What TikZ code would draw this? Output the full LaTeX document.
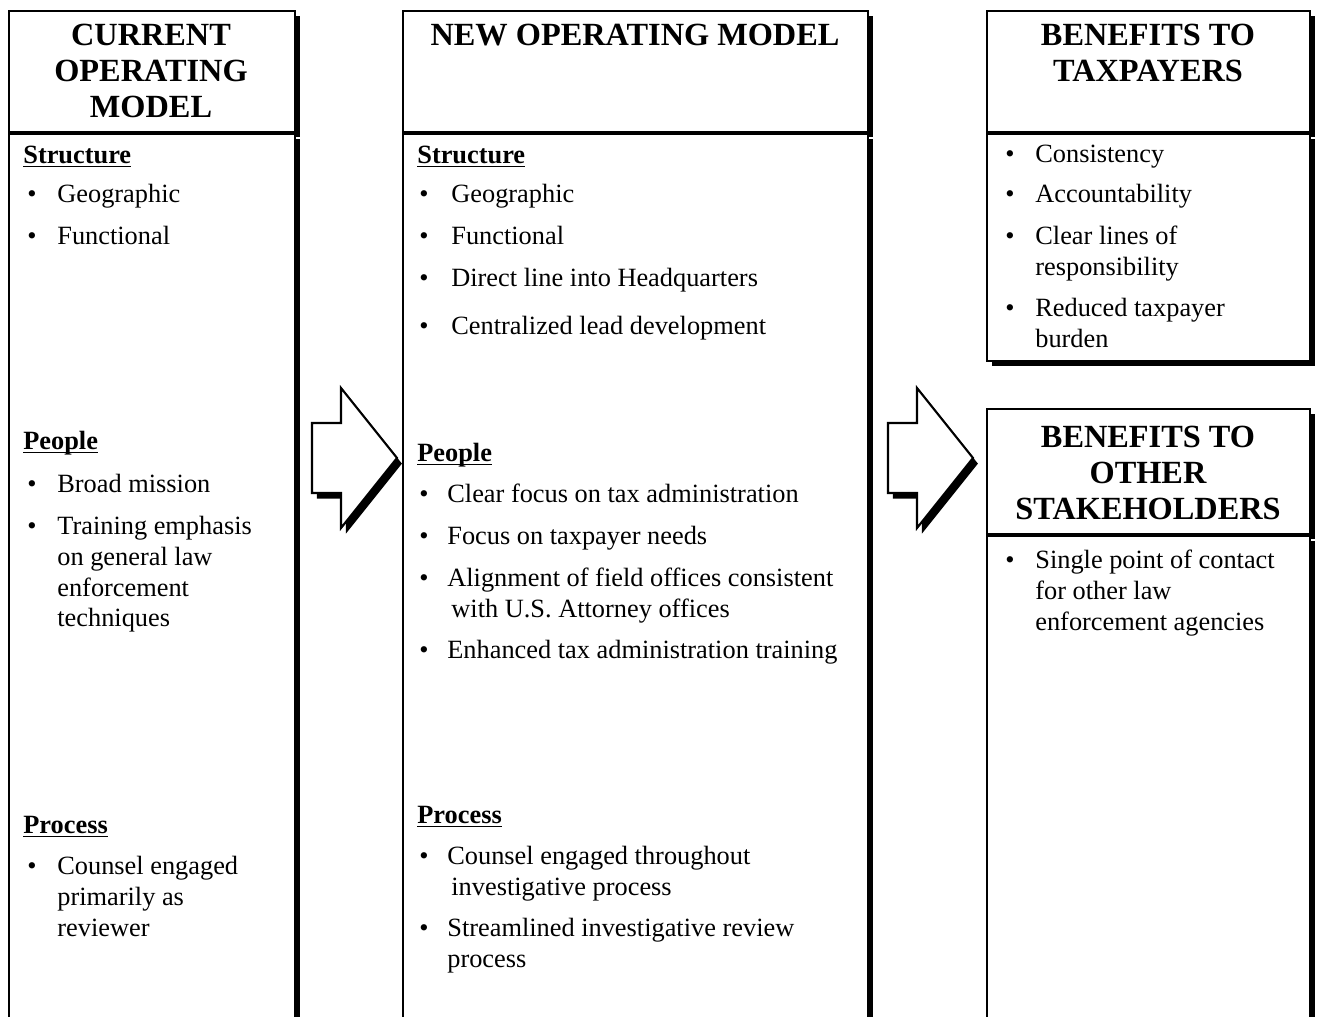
\documentclass[tikz,border=0pt]{standalone}
\usepackage{fontspec}
\setmainfont{Liberation Serif}
\usetikzlibrary{positioning,shadows}

\newcommand{\sechead}[1]{\underline{\smash{#1}}}
\newcommand{\stack}[1]{\begin{tabular}[t]{@{}l@{}}#1\end{tabular}}

\begin{document}
\begin{tikzpicture}[x=0.02cm, y=-0.02cm,
        panel/.style={draw=black, line width=1.2pt, fill=white, inner sep=0pt, anchor=north west,
                      drop shadow={shadow xshift=2.8pt, shadow yshift=-2.8pt, fill=black, opacity=1}},
        headtext/.style={font=\fontsize{18.4}{20.5}\selectfont\bfseries, align=center, inner sep=0pt},
        topic/.style={font=\fontsize{15}{17.4}\selectfont\bfseries, anchor=base west, inner sep=0pt, yshift=-1.1pt},
        bullet/.style={font=\fontsize{15}{17.4}\selectfont, anchor=base west, inner sep=0pt, yshift=-1.1pt},
        item/.style={font=\fontsize{15}{17.4}\selectfont, anchor=base west, inner sep=0pt, yshift=-1.1pt},
        bigarrow/.style={draw=black, line width=1.2pt, fill=white, line join=miter,
                      drop shadow={shadow xshift=2.8pt, shadow yshift=-3.2pt, fill=black, opacity=1}}
    ]
        \useasboundingbox (0,0) rectangle (1322,1017);
        \clip (0,0) rectangle (1322,1017);

        % panels
        \node[panel, minimum width=5.72cm, minimum height=2.42cm] (curhead) at (8,10) {};
        \node[panel, minimum width=5.72cm, minimum height=18cm, below=0pt of curhead] (curbody) {};
        \node[panel, minimum width=9.3cm, minimum height=2.42cm] (newhead) at (402,10) {};
        \node[panel, minimum width=9.3cm, minimum height=18cm, below=0pt of newhead] (newbody) {};
        \node[panel, minimum width=6.46cm, minimum height=2.42cm] (taxhead) at (986,10) {};
        \node[panel, minimum width=6.46cm, minimum height=4.54cm, below=0pt of taxhead] (taxbody) {};
        \node[panel, minimum width=6.46cm, minimum height=2.5cm] (othhead) at (986,408) {};
        \node[panel, minimum width=6.46cm, minimum height=10cm, below=0pt of othhead] (othbody) {};

        % block arrows
        \draw[bigarrow] (312,423) -- (341,423) -- (341,388) -- (397,458) -- (341,528) -- (341,493) -- (312,493) -- cycle;
        \draw[bigarrow] (888,423) -- (917,423) -- (917,388) -- (973,458) -- (917,528) -- (917,493) -- (888,493) -- cycle;

        % titles
        \node[headtext] (curtitle) at (151,71) {CURRENT\\OPERATING\\MODEL};
        \node[headtext] (newtitle) at (635,35) {NEW OPERATING MODEL};
        \node[headtext] (taxtitle) at (1148,53) {BENEFITS TO\\TAXPAYERS};
        \node[headtext] (othtitle) at (1148,473) {BENEFITS TO\\OTHER\\STAKEHOLDERS};

        % current model
        \node[topic] (curstruct) at (23,162) {\sechead{Structure}};
        \node[bullet] (curb1) at (27,201) {\textbullet};
        \node[item] (curgeo) at (57,201) {Geographic};
        \node[bullet] (curb2) at (27,243) {\textbullet};
        \node[item] (curfun) at (57,243) {Functional};
        \node[topic] (curpeople) at (23,448) {\sechead{People}};
        \node[bullet] (curb3) at (27,491) {\textbullet};
        \node[item] (curmission) at (57,491) {Broad mission};
        \node[bullet] (curb4) at (27,533) {\textbullet};
        \node[item] (curtrain) at (57,533) {\stack{Training emphasis\\on general law\\enforcement\\techniques}};
        \node[topic] (curproc) at (23,832) {\sechead{Process}};
        \node[bullet] (curb5) at (27,873) {\textbullet};
        \node[item] (curcounsel) at (57,873) {\stack{Counsel engaged\\primarily as\\reviewer}};

        % new model
        \node[topic] (newstruct) at (417,162) {\sechead{Structure}};
        \node[bullet] (newb1) at (419,201) {\textbullet};
        \node[item] (newgeo) at (451,201) {Geographic};
        \node[bullet] (newb2) at (419,243) {\textbullet};
        \node[item] (newfun) at (451,243) {Functional};
        \node[bullet] (newb3) at (419,285) {\textbullet};
        \node[item] (newline) at (451,285) {Direct line into Headquarters};
        \node[bullet] (newb4) at (419,333) {\textbullet};
        \node[item] (newlead) at (451,333) {Centralized lead development};
        \node[topic] (newpeople) at (417,460) {\sechead{People}};
        \node[bullet] (newb5) at (419,501) {\textbullet};
        \node[item] (newfocus) at (447,501) {Clear focus on tax administration};
        \node[bullet] (newb6) at (419,543) {\textbullet};
        \node[item] (newneeds) at (447,543) {Focus on taxpayer needs};
        \node[bullet] (newb7) at (419,585) {\textbullet};
        \node[item] (newalign) at (447,585) {\stack{Alignment of field offices consistent\\\hspace{2.3pt}with U.S. Attorney offices}};
        \node[bullet] (newb8) at (419,657) {\textbullet};
        \node[item] (newtrain) at (447,657) {Enhanced tax administration training};
        \node[topic] (newproc) at (417,822) {\sechead{Process}};
        \node[bullet] (newb9) at (419,863) {\textbullet};
        \node[item] (newcounsel) at (447,863) {\stack{Counsel engaged throughout\\\hspace{2.3pt}investigative process}};
        \node[bullet] (newb10) at (419,935) {\textbullet};
        \node[item] (newreview) at (447,935) {\stack{Streamlined investigative review\\process}};

        % benefits to taxpayers
        \node[bullet] (taxb1) at (1005,161) {\textbullet};
        \node[item] (taxcons) at (1035,161) {Consistency};
        \node[bullet] (taxb2) at (1005,201) {\textbullet};
        \node[item] (taxacc) at (1035,201) {Accountability};
        \node[bullet] (taxb3) at (1005,243) {\textbullet};
        \node[item] (taxlines) at (1035,243) {\stack{Clear lines of\\responsibility}};
        \node[bullet] (taxb4) at (1005,315) {\textbullet};
        \node[item] (taxburden) at (1035,315) {\stack{Reduced taxpayer\\burden}};

        % benefits to other stakeholders
        \node[bullet] (othb1) at (1005,567) {\textbullet};
        \node[item] (othcontact) at (1035,567) {\stack{Single point of contact\\for other law\\enforcement agencies}};
\end{tikzpicture}
\end{document}
